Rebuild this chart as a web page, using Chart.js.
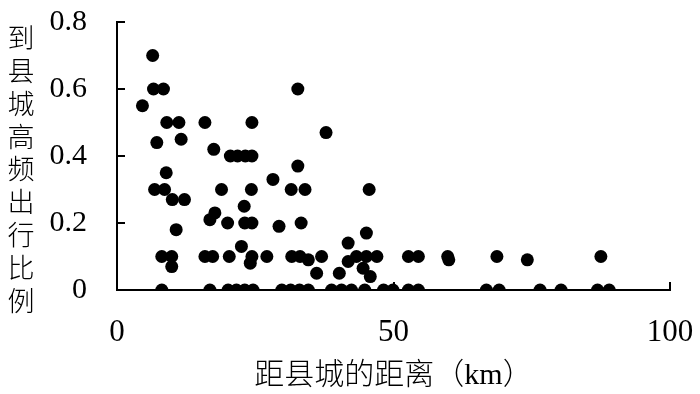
<!DOCTYPE html>
<html>
<head>
<meta charset="utf-8">
<script src="https://cdn.jsdelivr.net/npm/chart.js@4/dist/chart.umd.min.js"></script>
<style>
  html, body { margin: 0; padding: 0; background: #fff; }
  #wrap { width: 700px; height: 394px; position: relative; }
</style>
</head>
<body>
<div id="wrap"><canvas id="grafico"></canvas></div>
<script>
// distância ao centro do condado (km) e proporção de viagens frequentes
const distancias = [
  6.45, 6.6, 8.4, 32.7, 4.6, 9.0, 11.2, 15.9, 24.4, 37.8, 11.6, 7.2, 17.5,
  20.5, 21.8, 23.2, 24.4, 32.7, 8.9, 28.2,
  6.8, 8.6, 18.9, 24.3, 31.5, 34.0, 45.6, 10.0, 12.2, 23.0, 17.7, 16.8,
  20.0, 23.1, 24.4, 33.3, 29.3, 10.7, 45.1, 41.8, 22.5,
  8.1, 9.9, 15.9, 17.3, 20.3, 24.4, 27.1, 31.6, 33.1, 34.6, 37.0, 43.3, 45.1, 47.0,
  52.7, 54.5, 59.8, 60.0, 68.7, 74.2, 87.5,
  41.8, 24.1, 9.9, 44.5, 36.1, 40.2, 45.8,
  8.1, 16.8, 20.1, 21.6, 23.1, 24.6, 29.8, 31.4, 33.0, 34.6, 38.8, 40.6, 42.4,
  44.8, 48.2, 49.9, 52.7, 54.5, 66.8, 69.1, 76.5, 80.3, 86.9, 89.0
];
const proporcoes = [
  0.70, 0.60, 0.60, 0.60, 0.55, 0.50, 0.50, 0.50, 0.50, 0.47, 0.45, 0.44, 0.42,
  0.40, 0.40, 0.40, 0.40, 0.37, 0.35, 0.33,
  0.30, 0.30, 0.30, 0.30, 0.30, 0.30, 0.30, 0.27, 0.27, 0.25, 0.23, 0.21,
  0.20, 0.20, 0.20, 0.20, 0.19, 0.18, 0.17, 0.14, 0.13,
  0.10, 0.10, 0.10, 0.10, 0.10, 0.10, 0.10, 0.10, 0.10, 0.09, 0.10, 0.10, 0.10, 0.10,
  0.10, 0.10, 0.10, 0.09, 0.10, 0.09, 0.10,
  0.085, 0.08, 0.07, 0.065, 0.05, 0.05, 0.04,
  0, 0, 0, 0, 0, 0, 0, 0, 0, 0, 0, 0, 0,
  0, 0, 0, 0, 0, 0, 0, 0, 0, 0, 0
];
const ticksX = [0, 50, 100];
const ticksY = [0, 0.2, 0.4, 0.6, 0.8];
const tituloX = '距县城的距离（km）';
const tituloY = '到县城高频出行比例';

const pontos = distancias.map((d, i) => ({ x: d, y: proporcoes[i] }));
const serif = '"Liberation Serif", "Times New Roman", serif';

// sem folga extra dos rótulos, a área fica onde eu quero
function semFolga(s) {
  s.paddingTop = 0; s.paddingBottom = 0; s.paddingLeft = 0; s.paddingRight = 0;
}

// marcas de escala para dentro + título vertical
const extras = {
  id: 'extras',
  afterDraw(chart) {
    const ctx = chart.ctx;
    const sx = chart.scales.x, sy = chart.scales.y;
    const area = chart.chartArea;
    ctx.save();
    ctx.strokeStyle = '#000';
    ctx.lineWidth = 2;
    ticksY.slice(1).forEach(v => {
      const y = Math.round(sy.getPixelForValue(v));
      ctx.beginPath();
      ctx.moveTo(area.left, y);
      ctx.lineTo(area.left + 8, y);
      ctx.stroke();
    });
    ticksX.slice(1).forEach(v => {
      const x = Math.round(sx.getPixelForValue(v));
      ctx.beginPath();
      ctx.moveTo(x, area.bottom);
      ctx.lineTo(x, area.bottom - 8);
      ctx.stroke();
    });
    ctx.fillStyle = '#000';
    ctx.font = '300 27px "Noto Sans CJK SC"';
    ctx.textAlign = 'center';
    ctx.textBaseline = 'middle';
    [...tituloY].forEach((c, i) => {
      ctx.fillText(c, 21, 38 + i * 32.8);
    });
    ctx.restore();
  }
};

new Chart(document.getElementById('grafico'), {
  type: 'scatter',
  data: {
    datasets: [{
      data: pontos,
      backgroundColor: '#000',
      borderColor: '#000',
      pointRadius: 6.5,
      pointHoverRadius: 6.5,
      borderWidth: 0
    }]
  },
  options: {
    responsive: true,
    maintainAspectRatio: false,
    animation: false,
    layout: { padding: { top: 22, right: 30, left: 0, bottom: 0 }, autoPadding: false },
    plugins: { legend: { display: false }, tooltip: { enabled: false } },
    scales: {
      x: {
        type: 'linear',
        min: 0, max: 100,
        afterFit: s => { s.height = 104; semFolga(s); },
        afterBuildTicks: s => { s.ticks = ticksX.map(v => ({ value: v })); },
        grid: { display: true, drawOnChartArea: false, drawTicks: false },
        border: { color: '#000', width: 2 },
        ticks: { color: '#000', padding: 24, font: { family: serif, size: 31 } },
        title: {
          display: true, text: tituloX, color: '#000',
          padding: { top: 0, bottom: 0 },
          font: { family: serif + ', "Noto Sans CJK SC"', size: 30, weight: 300 }
        }
      },
      y: {
        type: 'linear',
        min: 0, max: 0.8,
        afterFit: s => { s.width = 117; semFolga(s); },
        afterBuildTicks: s => { s.ticks = ticksY.map(v => ({ value: v })); },
        grid: { display: true, drawOnChartArea: false, drawTicks: false },
        border: { color: '#000', width: 2 },
        ticks: { color: '#000', padding: 30, font: { family: serif, size: 30 } }
      }
    }
  },
  plugins: [extras]
});
</script>
</body>
</html>
